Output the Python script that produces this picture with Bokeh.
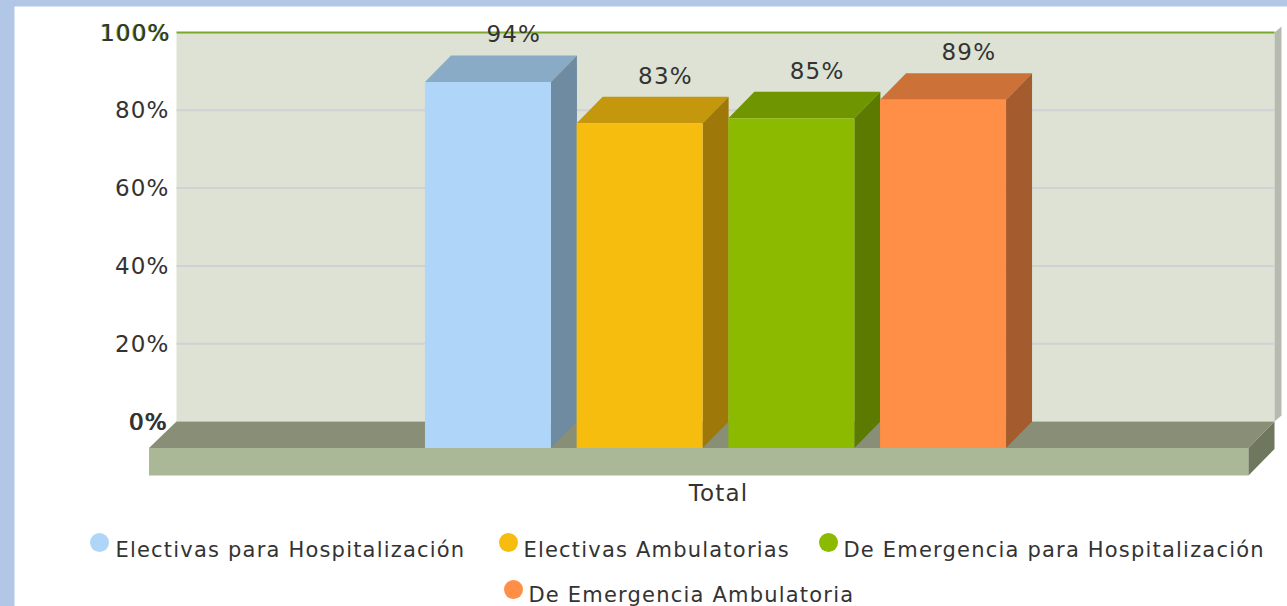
from bokeh.plotting import figure
from bokeh.models import FixedTicker, ColumnDataSource
from bokeh.core.properties import value
from bokeh.embed import file_html
from bokeh.resources import INLINE

categories = ["Electivas para Hospitalización", "Electivas Ambulatorias",
              "De Emergencia para Hospitalización", "De Emergencia Ambulatoria"]
bar_heights = [94.1, 83.5, 84.8, 89.5]
bar_labels = ["94%", "83%", "85%", "89%"]
group_label = "Total"
y_ticks = [0, 20, 40, 60, 80, 100]

front = ["#AFD6F8", "#F6BD0F", "#8BBA00", "#FF8E46"]
top = ["#8AABC6", "#C4970C", "#6F9500", "#CC7138"]
side = ["#6E8BA2", "#9E7909", "#5C7A00", "#A45B2D"]

PAGE_LEFT, PAGE_TOP = 14, 6
W, H = 1273, 600
CX = 715.5          # page x of the category centre
Y0, PX = 421, 3.89  # page y of 0 on the wall, page px per percent
FONT = "DejaVu Sans"
TICK_SIZE = "23px"


def ux(px):
    return px - CX


def uy(py):
    return (Y0 - py) / PX


DEPTH_X = 26
DEPTH_Y = 26.5 / PX
PITCH = 151.7
BAR_W = 126

p = figure(width=W, height=H, output_backend="svg", toolbar_location=None,
           x_range=(ux(PAGE_LEFT + 0.5), ux(PAGE_LEFT + W + 0.5)),
           y_range=(uy(PAGE_TOP + H), uy(PAGE_TOP)),
           min_border=0, min_border_left=0, min_border_right=0,
           min_border_top=0, min_border_bottom=0,
           background_fill_color="white", border_fill_color="white",
           outline_line_color=None)
p.grid.visible = False

# wall
wl, wr = ux(176.5), ux(1274.5)
p.quad(left=wl, right=wr, bottom=0, top=100, fill_color="#DDE2D4", line_color=None)
p.patch([wr, ux(1281.5), ux(1281.5), wr], [100, uy(26), uy(415), 0],
        fill_color="#B5BCAF", line_color=None)
grid = [t for t in y_ticks if 0 < t < 100]
p.segment(x0=[wl] * len(grid), x1=[wr] * len(grid), y0=grid, y1=grid,
          line_color="#CFD1D5", line_width=2)
p.segment(x0=[wl], x1=[wr], y0=[100], y1=[100], line_color="#7BA82C", line_width=2)

# floor
fl, fr = ux(149), ux(1248.5)
fb = uy(475)
p.patch([wl, wr, fr, fl], [0, 0, -DEPTH_Y, -DEPTH_Y], fill_color="#888F76", line_color=None)
p.quad(left=fl, right=fr, bottom=fb, top=-DEPTH_Y, fill_color="#ABB898", line_color=None)
p.patch([fr, wr, wr, fr], [-DEPTH_Y, 0, fb + DEPTH_Y, fb], fill_color="#6F775F", line_color=None)

# bars
for i, v in enumerate(bar_heights):
    c = (i - 1.5) * PITCH
    l, r = c - BAR_W / 2, c + BAR_W / 2
    b, t = -DEPTH_Y, v - DEPTH_Y
    p.patch([l, r, r + DEPTH_X, l + DEPTH_X], [t, t, t + DEPTH_Y, t + DEPTH_Y],
            fill_color=top[i], line_color=None)
    p.patch([r, r + DEPTH_X, r + DEPTH_X, r], [b, b + DEPTH_Y, t + DEPTH_Y, t],
            fill_color=side[i], line_color=None)
    p.quad(left=l, right=r, bottom=b, top=t, fill_color=front[i], line_color=None)

# value labels
src = ColumnDataSource(dict(
    x=[(i - 1.5) * PITCH + DEPTH_X - 2 for i in range(4)],
    y=[v - DEPTH_Y + 47.5 / PX for v in bar_heights],
    t=bar_labels))
p.text(x="x", y="y", text="t", source=src, text_font=value(FONT), text_font_size=TICK_SIZE,
       text_color="#333333", text_align="center", text_baseline="middle")

# axes
yaxis = p.yaxis[0]
yaxis.ticker = FixedTicker(ticks=y_ticks)
yaxis.major_label_overrides = {t: f"{t}%" for t in y_ticks}
yaxis.fixed_location = ux(177)
yaxis.axis_line_color = None
yaxis.major_tick_line_color = None
yaxis.minor_tick_line_color = None
yaxis.major_label_standoff = 5
yaxis.major_label_text_font = FONT
yaxis.major_label_text_font_size = TICK_SIZE
yaxis.major_label_text_color = "#333333"

xaxis = p.xaxis[0]
xaxis.ticker = FixedTicker(ticks=[0])
xaxis.major_label_overrides = {0: group_label}
xaxis.fixed_location = fb
xaxis.axis_line_color = None
xaxis.major_tick_line_color = None
xaxis.minor_tick_line_color = None
xaxis.major_label_standoff = -2
xaxis.major_label_text_font = FONT
xaxis.major_label_text_font_size = TICK_SIZE
xaxis.major_label_text_color = "#333333"

# doubled end labels of the reference's axis
p.text(x=[ux(165)], y=[100], text=["100%"], text_font=value(FONT), text_font_size=TICK_SIZE,
       text_color="#6E9E1E", text_align="right", text_baseline="middle")
p.text(x=[ux(165)], y=[0], text=["0%"], text_font=value(FONT), text_font_size=TICK_SIZE,
       text_color="#333333", text_align="right", text_baseline="middle")

# legend
leg_marks = [(99.5, 542), (508.5, 542), (828.5, 542), (513.5, 589)]
leg_texts = [(115.5, 549), (523.5, 549), (843.5, 549), (528.5, 594)]
p.scatter(x=[ux(a) for a, _ in leg_marks], y=[uy(b) for _, b in leg_marks],
          size=19, marker="circle", fill_color=front, line_color=None)
p.text(x=[ux(a) for a, _ in leg_texts], y=[uy(b) for _, b in leg_texts], text=categories,
       text_font=value(FONT), text_font_size="21px", text_color="#333333",
       text_align="left", text_baseline="middle")

template = """{% block postamble %}<style>html,body{background:#B2C6E6;margin:0;overflow:hidden}
body{margin:6px 0 0 14px;letter-spacing:1.2px}</style>{% endblock %}
"""
open("out.html", "w").write(file_html(p, INLINE, template=template))
